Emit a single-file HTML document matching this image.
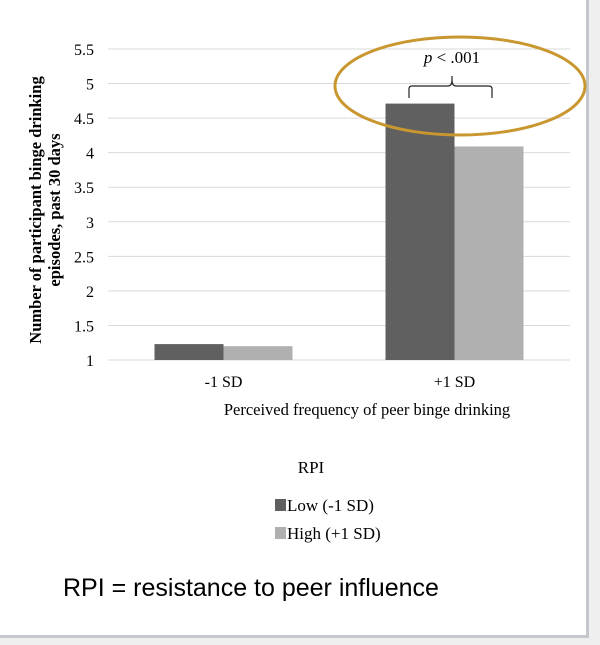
<!DOCTYPE html>
<html><head><style>
body{margin:0;width:600px;height:645px;background:#fff;overflow:hidden;font-family:"Liberation Serif",serif}
</style></head><body>
<svg width="600" height="645" style="position:absolute;left:0;top:0">
<rect x="0" y="0" width="600" height="645" fill="#fff"/>
<rect x="0" y="637" width="600" height="8" fill="#efefef"/>
<rect x="589" y="0" width="11" height="645" fill="#efefef"/>
<rect x="586" y="0" width="3" height="638" fill="#c4c7cc"/>
<rect x="0" y="635" width="589" height="3" fill="#c4c7cc"/>
<g id="grid"></g><g id="bars"></g><g id="labels"></g>
<text transform="translate(44,210) rotate(-90)" text-anchor="middle" font-size="16.5" font-weight="bold"><tspan x="0" dy="-3">Number of participant binge drinking</tspan><tspan x="0" dy="19">episodes, past 30 days</tspan></text>
<text x="367" y="415" text-anchor="middle" font-size="16.5">Perceived frequency of peer binge drinking</text>
<text x="311" y="473" text-anchor="middle" font-size="17">RPI</text>
<rect x="275" y="499" width="11" height="12" fill="#606060"/>
<text x="287" y="511" font-size="17">Low (-1 SD)</text>
<rect x="275" y="527" width="11" height="12" fill="#b0b0b0"/>
<text x="287" y="539" font-size="17">High (+1 SD)</text>
<text x="63" y="596" font-family="Liberation Sans,sans-serif" font-size="25">RPI = resistance to peer influence</text>
<path d="M409,98 L409,89 Q409,86 412,86 L448,86 Q452,86 452,80 L452,76 M452,80 Q452,86 456,86 L489,86 Q492,86 492,89 L492,98" fill="none" stroke="#222" stroke-width="1.2"/>
<text x="452" y="63" text-anchor="middle" font-size="17"><tspan font-style="italic">p</tspan> &lt; .001</text>
<ellipse cx="460" cy="86" rx="125" ry="49" fill="none" stroke="#c9972f" stroke-width="3"/>
</svg>
<script>
const categories=["-1 SD","+1 SD"];
const lowValues=[1.23,4.71];
const highValues=[1.20,4.09];
const yTicks=[1,1.5,2,2.5,3,3.5,4,4.5,5,5.5];
const NS="http://www.w3.org/2000/svg";
const y0=360,yTop=49,vmin=1,vmax=5.5,xL=108,xR=570;
function yS(v){return y0-(v-vmin)/(vmax-vmin)*(y0-yTop);}
function xC(i){return xL+(xR-xL)*(i+0.5)/categories.length;}
function mk(tag,attrs,parent){const e=document.createElementNS(NS,tag);for(const k in attrs)e.setAttribute(k,attrs[k]);parent.appendChild(e);return e;}
const grid=document.getElementById('grid'),bars=document.getElementById('bars'),labels=document.getElementById('labels');
yTicks.forEach(t=>{
 const l=mk('line',{x1:xL,x2:xR,y1:yS(t),y2:yS(t),stroke:'#d9d9d9','stroke-width':1},grid);
 
 
 const tx=mk('text',{x:94,y:yS(t)+6,'text-anchor':'end','font-size':16},labels);
 tx.textContent=String(t);
 
 
});
const bw=69;
categories.forEach((c,i)=>{
 const cx=xC(i);
 const b1=mk('rect',{x:cx-bw,y:yS(lowValues[i]),width:bw,height:y0-yS(lowValues[i]),fill:'#606060'},bars);
 
 
 const b2=mk('rect',{x:cx,y:yS(highValues[i]),width:bw,height:y0-yS(highValues[i]),fill:'#b0b0b0'},bars);
 
 
 const tx=mk('text',{x:cx,y:387,'text-anchor':'middle','font-size':16},labels);
 tx.textContent=c;
 
 
});
</script>
</body></html>
